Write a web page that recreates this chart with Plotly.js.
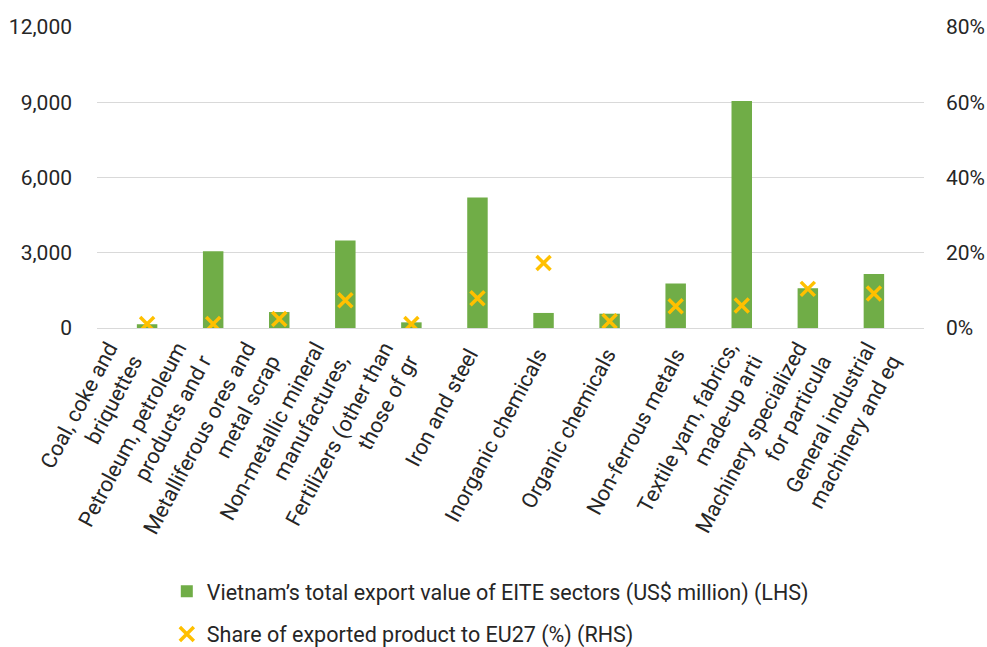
<!DOCTYPE html>
<html>
<head>
<meta charset="utf-8">
<script src="https://cdn.plot.ly/plotly-3.0.1.min.js"></script>
<style>html,body{margin:0;padding:0;background:#fff;}#chart{width:987px;height:647px;}</style>
</head>
<body>
<div id="chart"></div>
<script>
const categories = [
  "Coal, coke and<br>briquettes",
  "Petroleum, petroleum<br>products and r",
  "Metalliferous ores and<br>metal scrap",
  "Non-metallic mineral<br>manufactures,",
  "Fertilizers (other than<br>those of gr",
  "Iron and steel",
  "Inorganic chemicals",
  "Organic chemicals",
  "Non-ferrous metals",
  "Textile yarn, fabrics,<br>made-up arti",
  "Machinery specialized<br>for particula",
  "General industrial<br>machinery and eq"
];
const exportValue = [150, 3060, 636, 3490, 226, 5205, 600, 570, 1770, 9045, 1585, 2150];
const shareEU27 = [0.0106, 0.0106, 0.024, 0.074, 0.0106, 0.079, 0.173, 0.018, 0.058, 0.060, 0.104, 0.092];
const leftTicks = [0, 3000, 6000, 9000, 12000];
const rightTicks = [0, 0.2, 0.4, 0.6, 0.8];

const fam = "Roboto, 'Open Sans', sans-serif";
const tickFont = {family: fam, size: 21, color: "#262626"};
const xFont = {family: fam, size: 21.5, color: "#262626"};
const legendFont = {family: fam, size: 21.5, color: "#262626"};

// split tick labels into single-line and two-line groups (two-line blocks are centred on the tick like the original)
const idx = categories.map((c, i) => i);
const oneLine = idx.filter(i => categories[i].indexOf("<br>") < 0);
const twoLine = idx.filter(i => categories[i].indexOf("<br>") >= 0);
const n = categories.length;

const labelCarrier = (which, ax) => ({
  type: "scatter", mode: "markers", x: which, y: which.map(i => exportValue[i]),
  xaxis: ax, yaxis: "y", marker: {opacity: 0, size: 1}, showlegend: false, hoverinfo: "skip"
});

const traces = [
  {
    type: "bar", x: categories, y: exportValue,
    name: "Vietnam’s total export value of EITE sectors (US$ million) (LHS)",
    marker: {color: "#70AD47"}, legendgroup: "a", xaxis: "x", yaxis: "y"
  },
  {
    type: "scatter", mode: "markers", x: categories, y: shareEU27,
    name: "Share of exported product to EU27 (%) (RHS)",
    marker: {symbol: "x-thin", size: 14, color: "#FFC000", line: {width: 3.5, color: "#FFC000"}},
    legendgroup: "b", xaxis: "x", yaxis: "y2"
  },
  labelCarrier(oneLine, "x2"),
  labelCarrier(twoLine, "x3")
];

const labelAxis = (shift, which) => ({
  overlaying: "x", anchor: "y", side: "bottom", type: "linear",
  range: [-0.5 + shift, n - 0.5 + shift],
  tickmode: "array", tickvals: which, ticktext: which.map(i => categories[i]),
  tickangle: -62, showgrid: false, showline: false, zeroline: false,
  ticks: "", tickfont: xFont, automargin: false, ticklabelstandoff: 9
});

const layout = {
  width: 987, height: 647,
  margin: {l: 97, r: 63, t: 27, b: 318.5, autoexpand: false},
  paper_bgcolor: "#fff", plot_bgcolor: "#fff",
  font: tickFont,
  bargap: 0.69,
  showlegend: true,
  legend: {
    xref: "container", yref: "container",
    x: 0.169, xanchor: "left", y: 0.118, yanchor: "top",
    orientation: "v", traceorder: "grouped", tracegroupgap: 12,
    font: legendFont, bgcolor: "rgba(0,0,0,0)"
  },
  xaxis: {
    type: "category", showticklabels: false, showgrid: false, showline: false, zeroline: false,
    ticks: "", automargin: false
  },
  xaxis2: labelAxis(0.1, oneLine),
  xaxis3: labelAxis(0.15, twoLine),
  yaxis: {
    range: [0, 12000], tickvals: leftTicks, tickformat: ",d",
    showgrid: true, gridcolor: "#D9D9D9", gridwidth: 1,
    zeroline: true, zerolinecolor: "#D9D9D9", zerolinewidth: 1,
    showline: false, ticks: "", tickfont: tickFont, automargin: false,
    ticklabelstandoff: 24
  },
  yaxis2: {
    range: [0, 0.8], tickvals: rightTicks, tickformat: ".0%",
    overlaying: "y", side: "right", showgrid: false, zeroline: false,
    showline: false, ticks: "", tickfont: tickFont, automargin: false,
    ticklabelstandoff: 21
  }
};

Plotly.newPlot("chart", traces, layout, {displayModeBar: false, staticPlot: true});
</script>
</body>
</html>
